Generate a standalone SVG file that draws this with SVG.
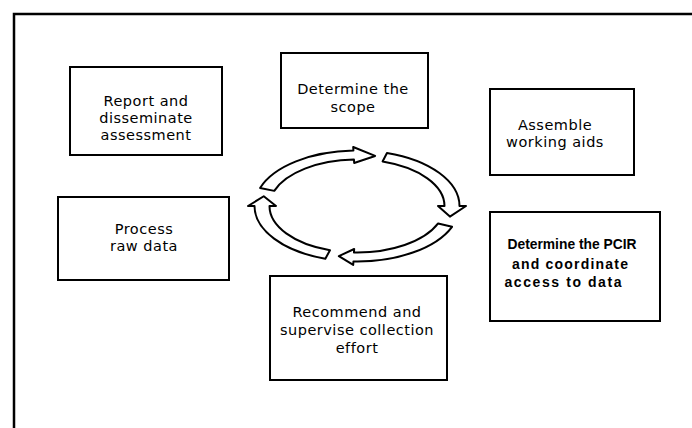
<svg xmlns="http://www.w3.org/2000/svg" width="692" height="428" viewBox="0 0 692 428">
<style>
.box{fill:#fff;stroke:#000;stroke-width:2}
.t{font-family:"DejaVu Sans","Liberation Sans",sans-serif;font-size:14.5px;letter-spacing:0.5px;fill:#000;text-anchor:middle}
.tb{font-family:"Liberation Sans","DejaVu Sans",sans-serif;font-size:14px;font-weight:bold;fill:#000;text-anchor:middle}
.arr{fill:#fff;stroke:#000;stroke-width:2;stroke-linejoin:round}
</style>
<rect x="0" y="0" width="692" height="428" fill="#fff"/>
<path d="M14,428 L14,14 L692,14" fill="none" stroke="#000" stroke-width="2.5"/>
<g id="connectors">
<path class="arr" d="M260.08,187.93 A102.5,55.5 0 0 1 353.42,150.53 L353.2,147.04 L375.13,155.94 L354.17,163.03 L353.95,159.53 A87.5,46.5 0 0 0 274.27,190.86 Z"/>
<path class="arr" d="M386.97,152.93 A102.5,55.5 0 0 1 459.5,206 L466,206 L449.92,216.6 L438,206 L444.5,206 A87.5,46.5 0 0 0 382.58,161.53 Z"/>
<path class="arr" d="M452.04,226.79 A102.5,55.5 0 0 1 353.42,261.47 L353.2,264.96 L338.87,256.06 L354.17,248.97 L353.95,252.47 A87.5,46.5 0 0 0 438.13,223.42 Z"/>
<path class="arr" d="M325.33,258.78 A102.5,55.5 0 0 1 254.5,206 L248,206 L263.75,196.27 L276,206 L269.5,206 A87.5,46.5 0 0 0 329.96,250.22 Z"/>
</g>
<g id="report">
<rect class="box" x="70" y="67" width="152" height="88"/>
<text class="t" x="146" y="106">Report and</text>
<text class="t" x="146" y="123">disseminate</text>
<text class="t" x="146" y="140">assessment</text>
</g>
<g id="scope">
<rect class="box" x="281" y="53" width="147" height="75"/>
<text class="t" x="353" y="94">Determine the</text>
<text class="t" x="353" y="112">scope</text>
</g>
<g id="assemble">
<rect class="box" x="490" y="89" width="144" height="86"/>
<text class="t" x="555" y="130">Assemble</text>
<text class="t" x="555" y="147">working aids</text>
</g>
<g id="process">
<rect class="box" x="58" y="197" width="171" height="83"/>
<text class="t" x="144" y="234">Process</text>
<text class="t" x="144" y="251">raw data</text>
</g>
<g id="pcir">
<rect class="box" x="490" y="212" width="170" height="109"/>
<text class="tb" x="572" y="249" textLength="129" lengthAdjust="spacingAndGlyphs">Determine the PCIR</text>
<text class="tb" x="570" y="269" textLength="116" lengthAdjust="spacing">and coordinate</text>
<text class="tb" x="563" y="287" textLength="117" lengthAdjust="spacing">access to data</text>
</g>
<g id="recommend">
<rect class="box" x="270" y="276" width="177" height="104"/>
<text class="t" x="357" y="317">Recommend and</text>
<text class="t" x="357" y="335">supervise collection</text>
<text class="t" x="357" y="353">effort</text>
</g>
</svg>
